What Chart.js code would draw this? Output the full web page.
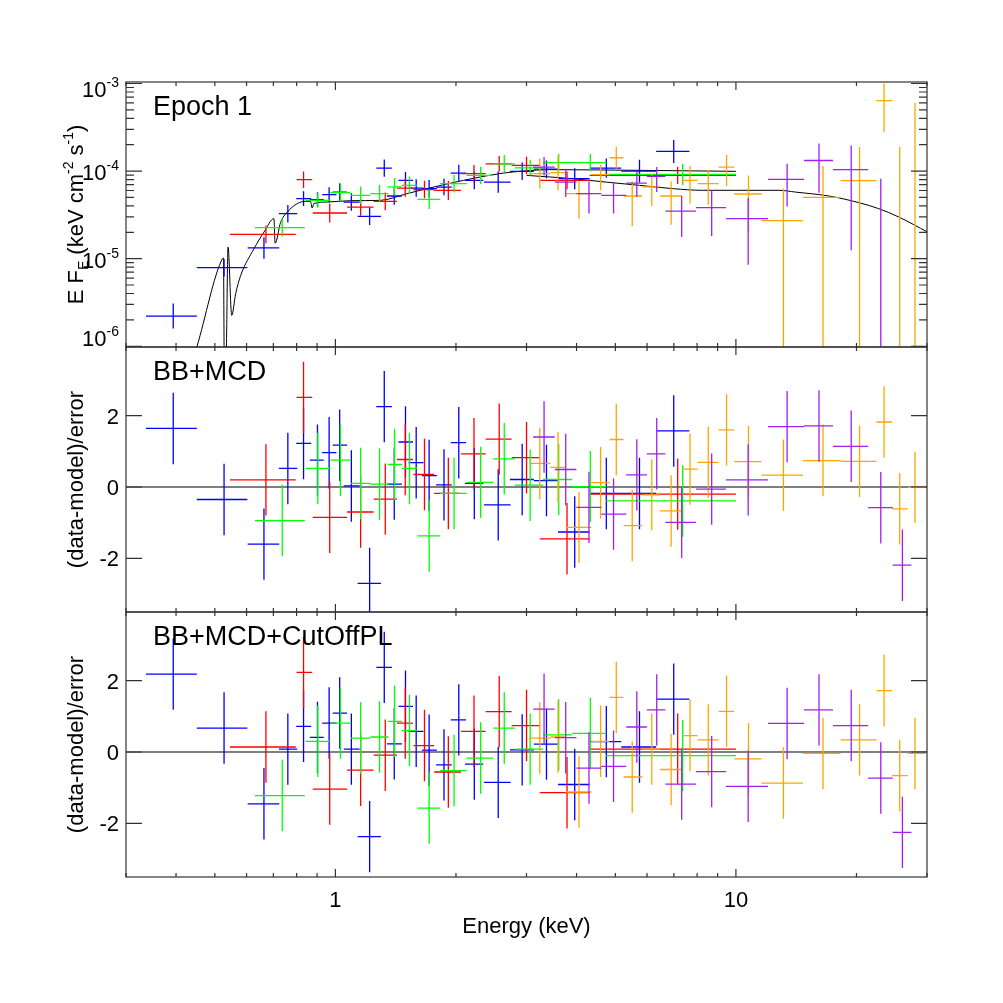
<!DOCTYPE html>
<html>
<head>
<meta charset="utf-8">
<script src="https://cdn.jsdelivr.net/npm/chart.js@4.4.0/dist/chart.umd.min.js"></script>
<style>
  html, body { margin: 0; padding: 0; background: #fff; }
  #wrap { position: relative; width: 1003px; height: 1003px; }
  #wrap canvas { position: absolute; left: 0; top: 0; }
</style>
</head>
<body>
<div id="wrap">
  <canvas id="fluxChart" width="1003" height="1003"></canvas>
  <canvas id="res1Chart" width="1003" height="1003"></canvas>
  <canvas id="res2Chart" width="1003" height="1003"></canvas>
</div>
<script>
// axis ranges / tick labels
const energyRange = [0.3, 30];
const fluxRange = [9.8e-7, 1.04e-3];
const residRange = [-3.5, 3.92];
const energyTicks = [1, 10];
const fluxTicks = [1e-6, 1e-5, 1e-4, 1e-3];
const residTicks = [-2, 0, 2];

// energy bins: [lo, centre, hi] keV ; flux: [value, lo, hi] ; residuals (+-1 sigma)
const blueE = [
  [0.3365, 0.3936, 0.4508], [0.4508, 0.5272, 0.6029], [0.6039, 0.6631, 0.7240],
  [0.7225, 0.7607, 0.8029], [0.7982, 0.8326, 0.8699], [0.8630, 0.9020, 0.9352],
  [0.9266, 0.9645, 1.0058], [0.9847, 1.0249, 1.0693], [1.0488, 1.0960, 1.1495],
  [1.1363, 1.2175, 1.2994], [1.2648, 1.3243, 1.3838], [1.3449, 1.4026, 1.4657],
  [1.4374, 1.4962, 1.5612], [1.5223, 1.5911, 1.6592], [1.6440, 1.7140, 1.7915],
  [1.7841, 1.8668, 1.9514], [1.9409, 2.0326, 2.1191], [2.1069, 2.2223, 2.3394],
  [2.3486, 2.5498, 2.7384], [2.7277, 2.9264, 3.1293], [3.1293, 3.3651, 3.5965],
  [3.5965, 3.9582, 4.3132], [4.3132, 4.7468, 5.172], [5.172, 5.7446, 6.3212],
  [6.3212, 6.9940, 7.6523]
];
const blueF = [
  [2.21e-6, 1.59e-6, 3.08e-6], [7.89e-6, 6.27e-6, 9.9e-6], [1.33e-5, 1.0e-5, 1.76e-5],
  [3.26e-5, 2.59e-5, 4.1e-5], [4.84e-5, 3.98e-5, 5.9e-5], [4.71e-5, 3.88e-5, 5.74e-5],
  [5.37e-5, 4.42e-5, 6.53e-5], [5.75e-5, 4.57e-5, 7.24e-5], [4.43e-5, 3.52e-5, 5.57e-5],
  [3.04e-5, 2.42e-5, 3.83e-5], [1.08e-4, 8.6e-5, 1.36e-4], [5.19e-5, 4.12e-5, 6.53e-5],
  [7.83e-5, 6.3e-5, 9.74e-5], [6.4e-5, 5.08e-5, 8.05e-5], [6.3e-5, 5.0e-5, 7.93e-5],
  [6.56e-5, 5.28e-5, 8.16e-5], [9.48e-5, 7.63e-5, 1.18e-4], [7.83e-5, 6.22e-5, 9.86e-5],
  [7.48e-5, 5.67e-5, 9.86e-5], [9.93e-5, 7.89e-5, 1.25e-4], [1.05e-4, 8.3e-5, 1.32e-4],
  [8.18e-5, 6.2e-5, 1.08e-4], [1.08e-4, 8.4e-5, 1.39e-4], [1.0e-4, 7.4e-5, 1.35e-4],
  [1.68e-4, 1.24e-4, 2.27e-4]
];
const blueR1 = [1.64, -0.35, -1.6, 0.52, 1.22, 0.75, 0.96, 1.17, 0.03, -2.7, 2.25, 0.08, 1.26,
  0.68, 0.32, 0.06, 1.24, 0.1, -0.5, 0.21, 0.18, -1.26, -0.18, -0.18, 1.57];
const blueR2 = [2.18, 0.67, -1.45, 0.08, 0.72, 0.41, 0.81, 1.09, 0.08, -2.37, 2.37, 0.23, 1.28,
  0.58, 0.05, -0.36, 0.9, -0.34, -0.85, 0.06, 0.22, -0.91, 0.29, 0.14, 1.48];

const redE = [
  [0.5455, 0.6707, 0.7963], [0.7995, 0.8326, 0.8750], [0.8780, 0.9678, 1.0693],
  [1.0693, 1.1561, 1.2455], [1.2455, 1.3319, 1.4242], [1.4242, 1.4939, 1.5612],
  [1.5666, 1.6688, 1.7640], [1.7640, 1.9141, 2.0593], [2.0593, 2.2182, 2.3720],
  [2.3720, 2.5645, 2.7542], [2.7542, 3.0007, 3.2381], [3.2381, 3.7871, 4.3132],
  [4.3132, 7.1549, 10.0]
];
const redF = [
  [1.89e-5, 1.5e-5, 2.38e-5], [7.98e-5, 6.42e-5, 9.9e-5], [3.32e-5, 2.58e-5, 4.27e-5],
  [3.88e-5, 3.08e-5, 4.89e-5], [4.51e-5, 3.58e-5, 5.68e-5], [6.4e-5, 5.08e-5, 8.05e-5],
  [6.14e-5, 4.88e-5, 7.73e-5], [6.03e-5, 4.68e-5, 7.76e-5], [9.33e-5, 7.41e-5, 1.17e-4],
  [1.21e-4, 9.86e-5, 1.49e-4], [1.16e-4, 9.2e-5, 1.46e-4], [7.83e-5, 6.2e-5, 9.9e-5],
  [8.93e-5, 7.1e-5, 1.12e-4]
];
const redR1 = [0.2, 2.51, -0.85, -0.7, -0.34, 0.77, 0.35, -0.18, 0.93, 1.34, 0.82, -1.45, -0.2];
const redR2 = [0.14, 2.23, -1.04, -0.51, -0.09, 0.81, 0.18, -0.56, 0.58, 1.13, 0.74, -1.14, 0.08];

const greenE = [
  [0.6299, 0.7367, 0.8387], [0.8421, 0.9036, 0.9717], [0.9717, 1.0291, 1.0897],
  [1.0941, 1.1561, 1.2223], [1.2223, 1.2889, 1.3573], [1.3496, 1.4048, 1.4657],
  [1.4657, 1.5311, 1.6032], [1.6032, 1.7140, 1.8257], [1.8257, 1.9781, 2.1275],
  [2.1275, 2.3047, 2.4775], [2.4775, 2.6398, 2.8063], [2.8063, 3.0637, 3.3000],
  [3.3000, 3.6106, 3.8966], [3.8966, 4.3301, 4.7468], [4.7468, 7.3638, 10.0]
];
const greenF = [
  [2.26e-5, 1.8e-5, 2.85e-5], [4.63e-5, 3.81e-5, 5.64e-5], [5.66e-5, 4.5e-5, 7.13e-5],
  [5.28e-5, 4.2e-5, 6.65e-5], [5.52e-5, 4.38e-5, 6.95e-5], [6.61e-5, 5.25e-5, 8.32e-5],
  [6.87e-5, 5.46e-5, 8.65e-5], [4.75e-5, 3.69e-5, 6.12e-5], [7.18e-5, 5.7e-5, 9.04e-5],
  [8.93e-5, 7.1e-5, 1.12e-4], [1.21e-4, 9.64e-5, 1.53e-4], [1.09e-4, 8.9e-5, 1.35e-4],
  [1.25e-4, 9.9e-5, 1.57e-4], [1.25e-4, 9.9e-5, 1.57e-4], [9.16e-5, 6.95e-5, 1.21e-4]
];
const greenR1 = [-0.94, 0.52, 0.75, 0.1, 0.08, 0.63, 0.52, -1.37, -0.18, 0.13, 0.79, 0.05, 0.21, 0.01, -0.39];
const greenR2 = [-1.22, 0.3, 0.81, 0.39, 0.42, 0.86, 0.6, -1.57, -0.52, -0.17, 0.67, 0.08, 0.48, 0.52, -0.1];

const orangeE = [
  [3.0461, 3.2381, 3.4435], [3.4435, 3.5965, 3.7590], [3.7590, 4.0570, 4.3551],
  [4.3551, 4.5939, 4.8374], [4.8374, 5.0271, 5.2408], [5.2408, 5.5092, 5.8345],
  [5.8345, 6.1648, 6.4684], [6.4684, 6.8900, 7.3384], [7.3384, 7.6823, 8.0241],
  [8.0241, 8.5310, 9.0523], [9.0523, 9.4756, 9.9034], [9.9034, 10.750, 11.580],
  [11.580, 13.141, 14.711], [14.711, 16.498, 18.256], [18.256, 20.358, 22.440],
  [22.440, 23.440, 24.543], [24.543, 25.645, 26.853], [26.853, 28.000, 29.717]
];
const orangeF = [
  [9.33e-5, 6.31e-5, 1.39e-4], [9.6e-5, 6.0e-5, 1.51e-4], [5.52e-5, 2.86e-5, 7.62e-5],
  [9.12e-5, 6.03e-5, 1.18e-4], [1.42e-4, 1.06e-4, 1.88e-4], [5.19e-5, 2.35e-5, 7.62e-5],
  [6.61e-5, 3.98e-5, 9.33e-5], [5.19e-5, 2.44e-5, 7.62e-5], [7.83e-5, 4.25e-5, 1.14e-4],
  [7.18e-5, 4.13e-5, 1.02e-4], [1.11e-4, 6.74e-5, 1.54e-4], [5.47e-5, 2.01e-5, 8.93e-5],
  [2.72e-5, 0, 6.31e-5], [5.01e-5, 0, 1.14e-4], [7.76e-5, 0, 1.88e-4],
  [6.37e-4, 2.79e-4, 1.0e-3], [0, 0, 1.88e-4], [0, 0, 6.04e-4]
];
const orangeR1 = [0.66, 0.55, -1.13, 0.12, 1.33, -1.08, -0.22, -0.67, 0.5, 0.69, 1.6, 0.71, 0.33, 0.74, 0.72, 1.82, -0.61, -0.01];
const orangeR2 = [0.39, 0.42, -1.12, 0.3, 1.53, -0.7, 0.08, -0.49, 0.46, 0.34, 1.14, -0.19, -0.87, -0.04, 0.34, 1.72, -0.66, -0.04];

const purpleE = [
  [3.1170, 3.3189, 3.5293], [3.5293, 3.7590, 3.9966], [3.9966, 4.2964, 4.6122],
  [4.6122, 4.9489, 5.3225], [5.3225, 5.6566, 5.9914], [5.9914, 6.3431, 6.6681],
  [6.6681, 7.3215, 7.9506], [7.9506, 8.6995, 9.4430], [9.4430, 10.730, 12.034],
  [12.034, 13.423, 14.791], [14.791, 16.125, 17.473], [17.473, 19.401, 21.385],
  [21.385, 22.999, 24.640], [24.640, 26.044, 27.422]
];
const purpleF = [
  [1.11e-4, 8.93e-5, 1.45e-4], [7.48e-5, 5.05e-5, 1.06e-4], [5.52e-5, 3.27e-5, 7.62e-5],
  [5.28e-5, 3.27e-5, 7.36e-5], [7.3e-5, 5.05e-5, 9.75e-5], [8.71e-5, 5.75e-5, 1.11e-4],
  [3.49e-5, 1.77e-5, 5.19e-5], [3.82e-5, 1.81e-5, 6.03e-5], [2.86e-5, 8.5e-6, 4.92e-5],
  [8.04e-5, 3.95e-5, 1.21e-4], [1.32e-4, 5.66e-5, 2.06e-4], [1.04e-4, 1.25e-5, 1.96e-4],
  [0, 0, 8.18e-5], [0, 0, 0]
];
const purpleR1 = [1.4, 0.49, -0.57, -0.76, 0.34, 0.93, -0.99, -0.06, 0.2, 1.69, 1.71, 1.14, -0.58, -2.19];
const purpleR2 = [1.2, 0.4, -0.45, -0.4, 0.7, 1.18, -0.9, -0.55, -0.96, 0.8, 1.18, 0.74, -0.73, -2.25];

// best-fit model curves (keV, E F_E)
const xmmModelE = [0.4355, 0.4508, 0.5224, 0.5254, 0.5278, 0.5331, 0.5394, 0.5509, 0.5636, 0.5801,
  0.6263, 0.6631, 0.7022, 0.7071, 0.7296, 0.7581, 0.8029, 0.8421, 0.8665, 0.8750, 0.8830, 0.9535,
  1.0897, 1.2942, 1.5081, 1.6916, 2.0864, 2.2961, 2.6242, 2.9433, 3.4295, 5.7446, 10.0];
const xmmModelF = [5.9e-7, 9.8e-7, 1.0e-5, 1.016e-5, 6.9e-7, 6.9e-7, 1.355e-5, 2.25e-6, 3.98e-6, 6.44e-6,
  1.30e-5, 2.01e-5, 2.86e-5, 1.50e-5, 2.59e-5, 3.40e-5, 4.25e-5, 4.51e-5, 4.51e-5, 3.78e-5, 4.25e-5, 4.43e-5,
  4.59e-5, 4.63e-5, 5.52e-5, 6.30e-5, 7.83e-5, 8.55e-5, 9.48e-5, 1.0e-4, 1.038e-4, 1.019e-4, 9.93e-5];
const nustarModelE = [3.0007, 3.9190, 4.7468, 5.7446, 6.9538, 8.2604, 10.0, 12.815, 14.107, 17.079, 20.277, 22.736, 25.497, 30.11];
const nustarModelF = [8.93e-5, 8.18e-5, 7.48e-5, 6.87e-5, 6.30e-5, 6.03e-5, 6.03e-5, 6.03e-5, 5.75e-5, 5.19e-5, 4.36e-5, 3.72e-5, 2.99e-5, 2.01e-5];

const series = [
  {color: '#0000ff', E: blueE, F: blueF, R1: blueR1, R2: blueR2},
  {color: '#ff0000', E: redE, F: redF, R1: redR1, R2: redR2},
  {color: '#00ff00', E: greenE, F: greenF, R1: greenR1, R2: greenR2},
  {color: '#ffa500', E: orangeE, F: orangeF, R1: orangeR1, R2: orangeR2},
  {color: '#a020f0', E: purpleE, F: purpleF, R1: purpleR1, R2: purpleR2}
];

const FONT = '"Liberation Sans", Arial, Helvetica, sans-serif';

function fluxPoints(E, F) {
  return E.map((e, i) => ({x: e[1], y: F[i][0], xMin: e[0], xMax: e[2], yMin: F[i][1], yMax: F[i][2]}));
}
function residPoints(E, R) {
  return E.map((e, i) => ({x: e[1], y: R[i], xMin: e[0], xMax: e[2], yMin: R[i] - 1, yMax: R[i] + 1}));
}
function modelLine(E, F) {
  return {data: E.map((e, i) => ({x: e, y: F[i]})), showLine: true, borderColor: '#000', borderWidth: 1,
    pointRadius: 0, cubicInterpolationMode: 'monotone'};
}

function yPix(scale, v) {
  if (scale.type === 'logarithmic' && v <= 0) return scale.bottom + 30;
  return scale.getPixelForValue(v);
}

// error-bar crosses
const crossPlugin = {
  id: 'crosses',
  afterDatasetsDraw(chart) {
    const {ctx, chartArea: a, scales: {x, y}} = chart;
    ctx.save();
    ctx.beginPath();
    ctx.rect(a.left, a.top, a.right - a.left, a.bottom - a.top);
    ctx.clip();
    ctx.lineWidth = 1.3;
    chart.data.datasets.forEach(ds => {
      if (!ds.crosses) return;
      ctx.strokeStyle = ds.borderColor;
      ds.data.forEach(p => {
        const px = x.getPixelForValue(p.x), py = yPix(y, p.y);
        ctx.beginPath();
        ctx.moveTo(x.getPixelForValue(p.xMin), py);
        ctx.lineTo(x.getPixelForValue(p.xMax), py);
        ctx.moveTo(px, yPix(y, p.yMin));
        ctx.lineTo(px, yPix(y, p.yMax));
        ctx.stroke();
      });
    });
    ctx.restore();
  }
};

function richText(ctx, parts, x, y, size, align) {
  let w = 0;
  const seg = parts.map(([t, m]) => {
    const fs = m ? Math.round(size * 0.64) : size;
    ctx.font = fs + 'px ' + FONT;
    const sw = ctx.measureText(t).width;
    w += sw;
    return {t, m, fs, sw};
  });
  let cx = align === 'right' ? x - w : align === 'center' ? x - w / 2 : x;
  seg.forEach(s => {
    ctx.font = s.fs + 'px ' + FONT;
    const dy = s.m === 1 ? -size * 0.45 : s.m === -1 ? size * 0.22 : 0;
    ctx.fillText(s.t, cx, y + dy);
    cx += s.sw;
  });
}

function logSteps(lo, hi) {
  const out = [];
  for (let d = Math.floor(Math.log10(lo)); d <= Math.ceil(Math.log10(hi)); d++) {
    for (let k = 1; k <= 9; k++) {
      const v = k * Math.pow(10, d);
      if (v >= lo * 0.999 && v <= hi * 1.001) out.push({v, major: k === 1});
    }
  }
  return out;
}

function panelPlugin(cfg) {
  return {
    id: 'panel',
    afterDraw(chart) {
      const {ctx, chartArea: a, scales: {x, y}} = chart;
      ctx.save();
      ctx.strokeStyle = '#333';
      ctx.lineWidth = 1.2;
      ctx.beginPath();
      logSteps(energyRange[0], energyRange[1]).forEach(t => {
        const px = x.getPixelForValue(t.v), len = t.major ? 8 : 4;
        ctx.moveTo(px, a.bottom); ctx.lineTo(px, a.bottom - len);
        ctx.moveTo(px, a.top); ctx.lineTo(px, a.top + len);
      });
      cfg.yTicks.forEach(t => {
        const py = y.getPixelForValue(t.v), len = t.major ? 16 : 8;
        ctx.moveTo(a.left, py); ctx.lineTo(a.left + len, py);
        ctx.moveTo(a.right, py); ctx.lineTo(a.right - len, py);
      });
      ctx.stroke();
      ctx.strokeRect(a.left, a.top, a.right - a.left, a.bottom - a.top);

      ctx.fillStyle = '#000';
      ctx.textBaseline = 'alphabetic';
      cfg.yLabels(ctx, y, a);

      ctx.font = '27px ' + FONT;
      ctx.textAlign = 'left';
      ctx.fillText(cfg.name, a.left + 27, a.top + 33);

      ctx.save();
      ctx.translate(83, (a.top + a.bottom) / 2);
      ctx.rotate(-Math.PI / 2);
      richText(ctx, cfg.title, 0, 0, 22, 'center');
      ctx.restore();

      if (cfg.xAxis) {
        energyTicks.forEach(v => richText(ctx, [[String(v), 0]], x.getPixelForValue(v), a.bottom + 30, 22, 'center'));
        richText(ctx, [['Energy (keV)', 0]], (a.left + a.right) / 2, a.bottom + 56, 22, 'center');
      }
      ctx.restore();
    }
  };
}

function makeChart(id, pad, yScale, datasets, decor) {
  return new Chart(document.getElementById(id), {
    type: 'scatter',
    data: {datasets},
    options: {
      responsive: false,
      animation: false,
      devicePixelRatio: 1,
      events: [],
      layout: {padding: pad},
      plugins: {legend: {display: false}, tooltip: {enabled: false}},
      scales: {
        x: {type: 'logarithmic', min: energyRange[0], max: energyRange[1], display: false},
        y: Object.assign({display: false}, yScale)
      }
    },
    plugins: [crossPlugin, decor]
  });
}

function crossSets(pointsFn) {
  return series.map(s => ({data: pointsFn(s), borderColor: s.color, pointRadius: 0, crosses: true}));
}
function zeroLine() {
  return {data: [{x: energyRange[0], y: 0}, {x: energyRange[1], y: 0}], showLine: true,
    borderColor: '#555', borderWidth: 1.5, pointRadius: 0};
}

const residTickList = residTicks.map(v => ({v, major: true}));
function residLabels(ctx, y) {
  residTicks.forEach(v => richText(ctx, [[String(v), 0]], 119, y.getPixelForValue(v) + 8, 22, 'right'));
}
const residTitle = [['(data-model)/error', 0]];

// top: unfolded spectrum
makeChart('fluxChart', {left: 126, right: 76, top: 82, bottom: 656},
  {type: 'logarithmic', min: fluxRange[0], max: fluxRange[1]},
  [modelLine(xmmModelE, xmmModelF), modelLine(nustarModelE, nustarModelF)]
    .concat(crossSets(s => fluxPoints(s.E, s.F))),
  panelPlugin({
    name: 'Epoch 1',
    yTicks: logSteps(fluxRange[0], fluxRange[1]),
    title: [['E F', 0], ['E', -1], [' (keV cm', 0], ['-2', 1], [' s', 0], ['-1', 1], [')', 0]],
    yLabels(ctx, y, a) {
      fluxTicks.forEach(v => {
        let py = y.getPixelForValue(v) + 9;
        if (py > a.bottom) py = a.bottom - 1;
        if (py < a.top + 15) py = a.top + 15;
        richText(ctx, [['10', 0], [String(Math.round(Math.log10(v))), 1]], 119, py, 22, 'right');
      });
    }
  }));

// middle: BB+MCD residuals
makeChart('res1Chart', {left: 126, right: 76, top: 347, bottom: 391},
  {type: 'linear', min: residRange[0], max: residRange[1]},
  [zeroLine()].concat(crossSets(s => residPoints(s.E, s.R1))),
  panelPlugin({name: 'BB+MCD', yTicks: residTickList, title: residTitle, yLabels: residLabels}));

// bottom: BB+MCD+CutOffPL residuals
makeChart('res2Chart', {left: 126, right: 76, top: 612, bottom: 126},
  {type: 'linear', min: residRange[0], max: residRange[1]},
  [zeroLine()].concat(crossSets(s => residPoints(s.E, s.R2))),
  panelPlugin({name: 'BB+MCD+CutOffPL', yTicks: residTickList, title: residTitle, yLabels: residLabels, xAxis: true}));
</script>
</body>
</html>
